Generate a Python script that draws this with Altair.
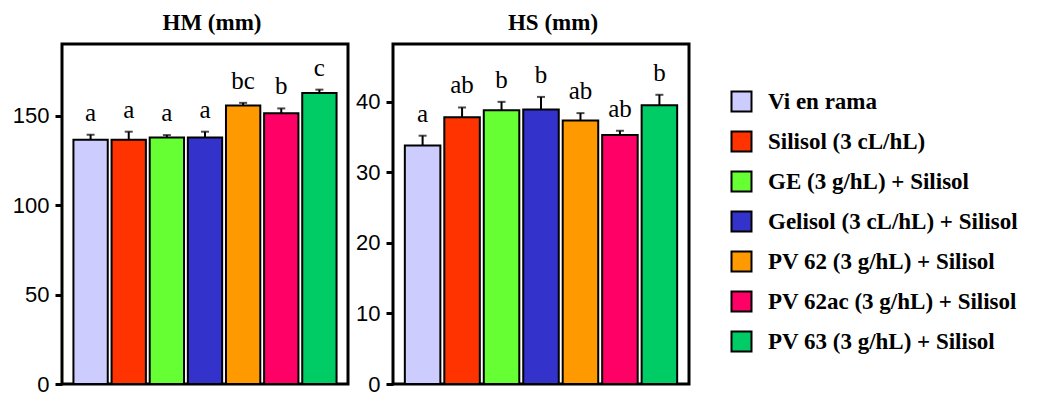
import altair as alt
import pandas as pd

treatments = [
    "Vi en rama",
    "Silisol (3 cL/hL)",
    "GE (3 g/hL) + Silisol",
    "Gelisol  (3 cL/hL) + Silisol",
    "PV 62 (3 g/hL) + Silisol",
    "PV 62ac (3 g/hL) + Silisol",
    "PV 63 (3 g/hL) + Silisol",
]
colors = ["#CCCCFF", "#FF3300", "#66FF33", "#3333CC", "#FF9900", "#FF0066", "#00CC66"]

hm_mean = [136.5, 136.5, 137.8, 137.8, 155.6, 151.3, 162.6]
hm_err = [2.8, 4.5, 1.3, 3.2, 1.5, 2.7, 1.9]
hm_letters = ["a", "a", "a", "a", "bc", "b", "c"]
hm_ticks = [0, 50, 100, 150]

hs_mean = [33.8, 37.8, 38.8, 38.9, 37.35, 35.3, 39.5]
hs_err = [1.4, 1.4, 1.2, 1.8, 1.05, 0.6, 1.5]
hs_letters = ["a", "ab", "b", "b", "ab", "ab", "b"]
hs_ticks = [0, 10, 20, 30, 40]

color_enc = alt.Color(
    "t:N",
    scale=alt.Scale(domain=treatments, range=colors),
    legend=alt.Legend(
        orient="none", legendX=668, legendY=46, title=None,
        symbolType="square", symbolSize=400, symbolStrokeColor="black",
        symbolStrokeWidth=2, symbolOpacity=1,
        labelFont="Liberation Serif", labelFontWeight="bold", labelFontSize=23,
        labelColor="black", labelOffset=15, labelLimit=400, rowPadding=11,
    ),
)


def panel(mean, err, letters, ticks, ymax, title, width, dx):
    df = pd.DataFrame({
        "t": treatments,
        "mean": mean,
        "top": [m + e for m, e in zip(mean, err)],
        "letter": letters,
    })
    x = alt.X("t:N", sort=treatments, axis=None,
              scale=alt.Scale(paddingInner=0.1, paddingOuter=0.3))
    y = alt.Y("mean:Q", title=None,
              scale=alt.Scale(domain=[0, ymax], nice=False),
              axis=alt.Axis(values=ticks, grid=False, domain=False,
                            labelFont="Liberation Sans", labelFontSize=22,
                            labelColor="black", tickColor="black", tickWidth=3,
                            tickSize=7, labelPadding=6))
    base = alt.Chart(df)
    bars = base.mark_bar(stroke="black", strokeWidth=2).encode(x=x, y=y, color=color_enc)
    rule = base.mark_rule(color="black", strokeWidth=2).encode(x=x, y="mean:Q", y2="top:Q")
    cap = base.mark_tick(color="black", thickness=2, size=8).encode(x=x, y="top:Q")
    txt = base.mark_text(baseline="bottom", dy=-9, font="Liberation Serif",
                         fontSize=25, color="black").encode(x=x, y="top:Q", text="letter:N")
    return alt.layer(bars, rule, cap, txt).properties(
        width=width, height=340,
        title=alt.TitleParams(title, font="Liberation Serif", fontSize=23,
                              fontWeight="bold", color="black", dx=dx, offset=9),
    )


left = panel(hm_mean, hm_err, hm_letters, hm_ticks, 190, "HM (mm)", 286, 7)
right = panel(hs_mean, hs_err, hs_letters, hs_ticks, 48.2, "HS (mm)", 296, 12)

chart = alt.hconcat(left, right, spacing=4).properties(
    padding={"left": 10, "top": 10, "right": 4, "bottom": 0}
).configure_view(stroke="black", strokeWidth=3)

chart.save("out.html", embed_options={"renderer": "svg", "actions": False})
